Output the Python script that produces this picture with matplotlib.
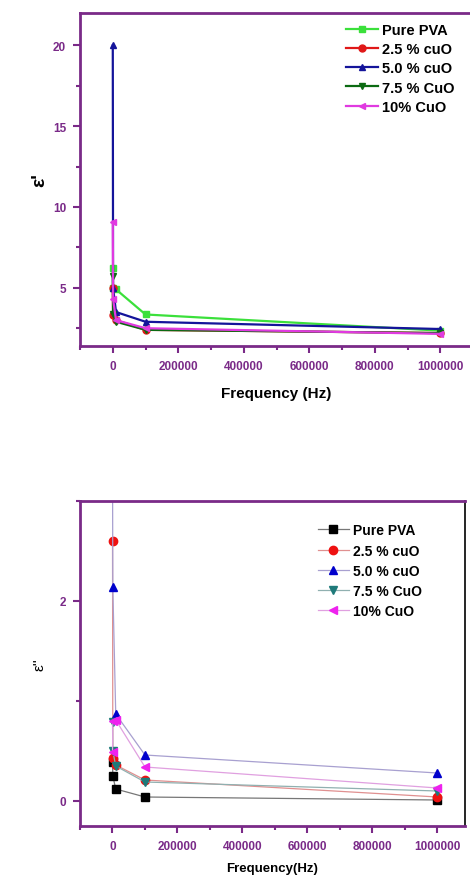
import matplotlib
matplotlib.use("Agg")
import matplotlib.pyplot as plt
from matplotlib.ticker import MultipleLocator

plt.rcParams['font.family'] = ['Liberation Sans', 'DejaVu Sans']

freq = [100, 1000, 10000, 100000, 1000000]
labels = ["Pure PVA", "2.5 % cuO", "5.0 % cuO", "7.5 % CuO", "10% CuO"]

# real part eps'
eps1_pva = [6.2, 5.0, 4.9, 3.35, 2.35]
eps1_25 = [5.0, 3.3, 3.0, 2.4, 2.2]
eps1_50 = [20.0, 5.0, 3.5, 2.9, 2.45]
eps1_75 = [5.7, 3.4, 2.9, 2.4, 2.2]
eps1_10 = [9.1, 4.3, 3.0, 2.5, 2.15]

# imaginary part eps''
eps2_pva = [0.39, 0.25, 0.12, 0.04, 0.01]
eps2_25 = [2.6, 0.43, 0.36, 0.21, 0.04]
eps2_50 = [3.4, 2.14, 0.87, 0.46, 0.28]
eps2_75 = [0.79, 0.50, 0.35, 0.19, 0.10]
eps2_10 = [0.49, 0.80, 0.81, 0.34, 0.13]

top_series = [eps1_pva, eps1_25, eps1_50, eps1_75, eps1_10]
bot_series = [eps2_pva, eps2_25, eps2_50, eps2_75, eps2_10]
markers = ['s', 'o', '^', 'v', '<']
top_colors = ['#3be03b', '#e01818', '#14149a', '#0b6a12', '#e03ae0']
bot_mcolors = ['#000000', '#ee1111', '#0000cc', '#1f7a7a', '#ee22ee']
bot_lcolors = ['#777777', '#e09090', '#a8a0d0', '#90b0b0', '#e0a0e0']

purple = '#7a2a88'

fig = plt.figure(figsize=(4.7, 8.78), dpi=100)
ax1 = fig.add_axes([80/470, 1-347/878, 393/470, 333/878])
ax2 = fig.add_axes([80/470, 1-827/878, 385/470, 325/878])

for s, m, c, lab in zip(top_series, markers, top_colors, labels):
    ax1.plot(freq, s, marker=m, color=c, lw=1.6, ms=5, label=lab)

for s, m, mc, lc, lab in zip(bot_series, markers, bot_mcolors, bot_lcolors, labels):
    ax2.plot(freq, s, marker=m, color=lc, mfc=mc, mec=mc, lw=0.9, ms=6, label=lab)

ax1.set_xlim(-100000, 1100000)
ax1.set_ylim(1.4, 22)
ax1.yaxis.set_major_locator(MultipleLocator(5))
ax1.yaxis.set_minor_locator(MultipleLocator(2.5))

ax2.set_xlim(-100000, 1085000)
ax2.set_ylim(-0.25, 3.0)
ax2.yaxis.set_major_locator(MultipleLocator(2))
ax2.yaxis.set_minor_locator(MultipleLocator(1))

for ax in (ax1, ax2):
    ax.xaxis.set_major_locator(MultipleLocator(200000))
    ax.xaxis.set_minor_locator(MultipleLocator(100000))
    ax.ticklabel_format(axis='x', style='plain', useOffset=False)
    for side in ('left', 'bottom', 'top'):
        ax.spines[side].set_color(purple)
        ax.spines[side].set_linewidth(2)
    ax.spines['right'].set_color('black')
    ax.spines['right'].set_linewidth(1.2)
    ax.tick_params(which='both', direction='out', color=purple, width=1.5,
                   top=False, right=False)
    ax.tick_params(which='major', length=5, labelsize=8.5, labelcolor=purple, pad=5)
    ax.tick_params(which='minor', length=3)
    for t in ax.get_xticklabels() + ax.get_yticklabels():
        t.set_fontweight('bold')

ax1.set_xlabel("Frequency (Hz)", fontsize=11, fontweight='bold', labelpad=10)
ax1.set_ylabel("ε'", fontsize=14, fontweight='bold', labelpad=3)
ax2.set_xlabel("Frequency(Hz)", fontsize=9.5, fontweight='bold', labelpad=7)
ax2.set_ylabel("ε''", fontsize=11, labelpad=9)

leg1 = ax1.legend(loc='upper right', bbox_to_anchor=(0.98, 1.0), frameon=False,
                  prop={'weight': 'bold', 'size': 10.5}, handlelength=2.2,
                  labelspacing=0.35, handletextpad=0.3, borderaxespad=0.3)
leg2 = ax2.legend(loc='upper right', bbox_to_anchor=(0.92, 0.97), frameon=False,
                  prop={'weight': 'bold', 'size': 10}, handlelength=2.2,
                  labelspacing=0.45, handletextpad=0.3)

fig.savefig("out.png", dpi=100)
